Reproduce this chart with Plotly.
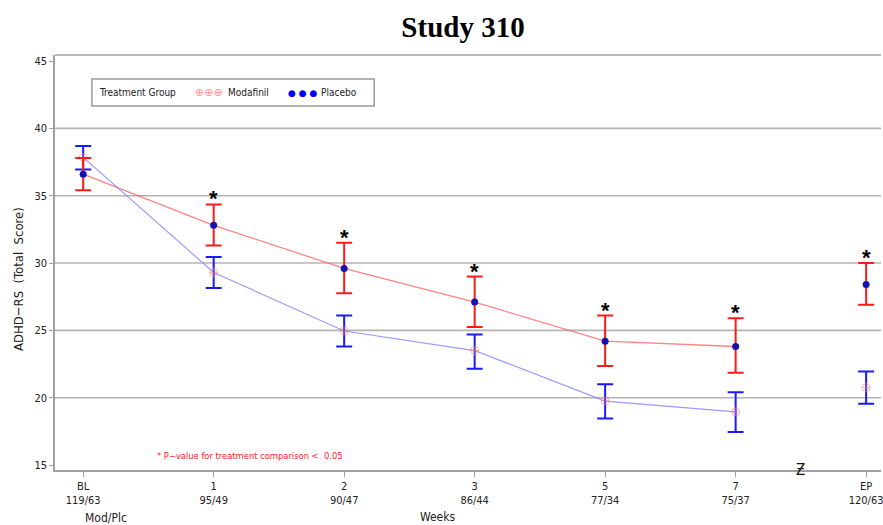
import plotly.graph_objects as go

# Visit labels and patient counts (Modafinil / Placebo)
weeks = ["BL", "1", "2", "3", "5", "7", "EP"]
n_counts = ["119/63", "95/49", "90/47", "86/44", "77/34", "75/37", "120/63"]

# Placebo: mean and confidence limits
placebo_mean = [36.6, 32.8, 29.6, 27.1, 24.2, 23.8, 28.4]
placebo_upper = [37.8, 34.35, 31.5, 29.0, 26.1, 25.9, 30.0]
placebo_lower = [35.4, 31.3, 27.75, 25.25, 22.35, 21.85, 26.9]

# Modafinil: mean and confidence limits
modafinil_mean = [37.85, 29.3, 24.95, 23.5, 19.75, 18.95, 20.75]
modafinil_upper = [38.7, 30.45, 26.1, 24.7, 21.0, 20.4, 21.95]
modafinil_lower = [36.95, 28.15, 23.8, 22.15, 18.45, 17.45, 19.55]

# Visits with p < 0.05
significant = [False, True, True, True, True, True, True]

y_ticks = [15, 20, 25, 30, 35, 40, 45]

FONT = "DejaVu Sans Condensed, Liberation Sans Narrow, Liberation Sans, Arial, sans-serif"
x = list(range(len(weeks)))
n_line = len(weeks) - 1  # endpoint is not joined to the weekly profile

fig = go.Figure()

# Connecting lines over the weekly visits
fig.add_trace(go.Scatter(
    x=x[:n_line], y=placebo_mean[:n_line], mode="lines",
    line=dict(color="rgba(255,90,90,0.75)", width=1.3),
    hoverinfo="skip", showlegend=False))
fig.add_trace(go.Scatter(
    x=x[:n_line], y=modafinil_mean[:n_line], mode="lines",
    line=dict(color="rgba(120,120,255,0.75)", width=1.2),
    hoverinfo="skip", showlegend=False))

# Modafinil: blue confidence bars, pink circle-plus markers
fig.add_trace(go.Scatter(
    x=x, y=modafinil_mean, mode="markers", name="Modafinil",
    marker=dict(symbol="circle-cross-open", size=8,
                color="rgba(255,120,120,0.55)", line=dict(width=1)),
    error_y=dict(type="data", symmetric=False,
                 array=[u - m for u, m in zip(modafinil_upper, modafinil_mean)],
                 arrayminus=[m - l for m, l in zip(modafinil_mean, modafinil_lower)],
                 color="#1a1aff", thickness=2, width=8),
    showlegend=False))

# Placebo: red confidence bars, blue dots
fig.add_trace(go.Scatter(
    x=x, y=placebo_mean, mode="markers", name="Placebo",
    marker=dict(symbol="circle", size=7, color="#1212b0"),
    error_y=dict(type="data", symmetric=False,
                 array=[u - m for u, m in zip(placebo_upper, placebo_mean)],
                 arrayminus=[m - l for m, l in zip(placebo_mean, placebo_lower)],
                 color="#ff1a1a", thickness=2, width=8),
    showlegend=False))

W, H = 883, 525
L, R, T, B = 55, 0, 55, 55
pw, ph = W - L - R, H - T - B


def px_to_paper(px, py):
    return (px - L) / pw, 1 - (py - T) / ph


def note(px, py, text, font, xanchor="center", **kw):
    ax, ay = px_to_paper(px, py)
    d = dict(x=ax, y=ay, xref="paper", yref="paper", text=text, showarrow=False,
             xanchor=xanchor, yanchor="middle", font=font)
    d.update(kw)
    return d


annotations = []

# Significance stars above the upper limit
for xi, top, sig in zip(x, placebo_upper, significant):
    if sig:
        annotations.append(dict(
            x=xi, y=top, xref="x", yref="y", text="<b>*</b>", showarrow=False,
            font=dict(family="Liberation Sans, Arial", size=22, color="black"),
            yanchor="bottom", yshift=-9))

txt = dict(family=FONT, size=10, color="#222")

# Footnote
annotations.append(note(155, 455, "* P\u2212value for treatment comparison &lt;  0.05",
                        dict(family=FONT, size=9.3, color="#ff2020"), xanchor="left"))

# Legend box contents
annotations += [
    note(97, 92.5, "Treatment Group", txt, xanchor="left"),
    note(193, 92.5, "\u2295\u2295\u2295", dict(family="DejaVu Sans", size=11, color="#ff9090"),
         xanchor="left"),
    note(226, 92.5, "Modafinil", txt, xanchor="left"),
    note(287, 92.5, "\u25cf \u25cf \u25cf", dict(family="DejaVu Sans", size=9, color="#0000ff"),
         xanchor="left"),
    note(320, 92.5, "Placebo", txt, xanchor="left"),
]

# Axis titles and break mark
annotations += [
    note(18, 279, "ADHD\u2212RS  (Total  Score)", dict(family=FONT, size=13, color="#222"),
         textangle=-90),
    note(83, 518, "Mod/Plc", dict(family=FONT, size=12, color="#222"), xanchor="left"),
    note(439, 517, "Weeks", dict(family=FONT, size=12, color="#222")),
    note(802, 470, "\u01b5", dict(family=FONT, size=15, color="#111")),
]

shapes = [
    # legend frame
    dict(type="rect", xref="paper", yref="paper",
         x0=px_to_paper(92, 79)[0], y0=px_to_paper(92, 79)[1],
         x1=px_to_paper(375, 106)[0], y1=px_to_paper(375, 106)[1],
         line=dict(color="#9a9a9a", width=1.5), fillcolor="white", layer="above"),
    # top frame line
    dict(type="line", xref="paper", yref="paper", x0=0, x1=1, y0=1, y1=1,
         line=dict(color="#a0a0a0", width=1.5)),
]

fig.update_layout(
    width=W, height=H,
    margin=dict(l=L, r=R, t=T, b=B),
    paper_bgcolor="white", plot_bgcolor="white",
    title=dict(text="<b>Study 310</b>", x=463 / W, xanchor="center",
               y=1 - 27 / H, yanchor="middle",
               font=dict(family="Liberation Serif, Times New Roman, serif", size=29, color="black")),
    xaxis=dict(range=[-0.216, 6.114], tickvals=x,
               ticktext=[f"{w}<br>{n}" for w, n in zip(weeks, n_counts)],
               ticklabeloverflow="allow",
               showgrid=False, zeroline=False, showline=True,
               linecolor="#a0a0a0", linewidth=1.5,
               ticks="outside", ticklen=5, tickcolor="#a0a0a0", tickwidth=1.2,
               tickfont=dict(family=FONT, size=11, color="#222")),
    yaxis=dict(range=[14.63, 45.45], tickvals=y_ticks,
               showgrid=False, zeroline=False, showline=True,
               linecolor="#a0a0a0", linewidth=1.5,
               ticks="outside", ticklen=4, tickcolor="#a0a0a0", tickwidth=1.2,
               tickfont=dict(family=FONT, size=11, color="#222")),
    annotations=annotations,
    shapes=shapes,
)

# horizontal reference lines at 20..40
for v in y_ticks[1:-1]:
    fig.add_shape(type="line", xref="paper", yref="y", x0=0, x1=1, y0=v, y1=v,
                  line=dict(color="#b4b4b4", width=1.6), layer="below")

fig.write_html("out.html")
